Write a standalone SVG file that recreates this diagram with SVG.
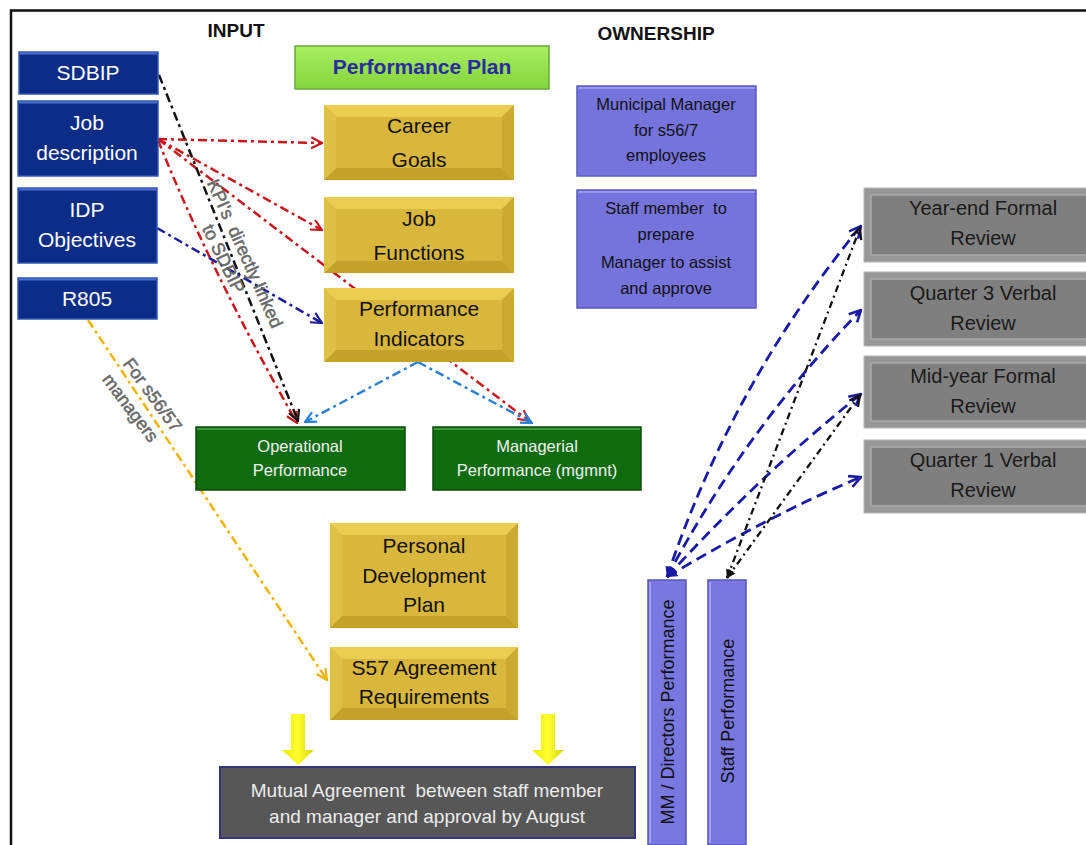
<svg xmlns="http://www.w3.org/2000/svg" width="1086" height="845" viewBox="0 0 1086 845">
<defs>
<style>
text{font-family:"Liberation Sans",Arial,sans-serif}
.t-in{fill:#fff;font-size:21px;text-anchor:middle}
.t-gold{fill:#111;font-size:21px;text-anchor:middle}
.t-green{fill:#f2f2f2;font-size:16.5px;text-anchor:middle}
.t-purp{fill:#111;font-size:16.5px;text-anchor:middle}
.t-gray{fill:#1a1a1a;font-size:20px;text-anchor:middle}
.t-head{fill:#111;font-size:19px;font-weight:bold;text-anchor:middle}
.t-note{fill:#686868;font-size:18px;text-anchor:middle;stroke:#686868;stroke-width:0.5}
.inbox{fill:#0c2d87;stroke:#3059b8;stroke-width:1.5}
.gt{fill:#ebcd52}.gb{fill:#c4a12b}.gl{fill:#dfc046}.gr{fill:#cba932}.gf{fill:#d8b73c}
.green{fill:#0e6b0e;stroke:#0a4d0a;stroke-width:1.5}
.purp{fill:#7474dc;stroke:#5a5ac0;stroke-width:1.5}
.bar{fill:#7878e0;stroke:#5656b6;stroke-width:1.5}
.gout{fill:#989898;stroke:#b4b4b4;stroke-width:1}
.gin{fill:#7f7f7f;stroke:#a9a9a9;stroke-width:1.5}
.hl{fill:none;stroke-width:2}
.c{fill:none;stroke-width:2.5}
.dd{stroke-dasharray:9 4 3 4}
.red{stroke:#c8161d}.blk{stroke:#111}.navy{stroke:#1c1c9c}.lblue{stroke:#2a80d4}.gold{stroke:#f0b400}
.rb{fill:none;stroke:#1a1aa8;stroke-width:2.8;stroke-dasharray:11 6}
.rk{fill:none;stroke:#111;stroke-width:2.3;stroke-dasharray:7 4 2 4}
</style>
<linearGradient id="gPlan" x1="0" y1="0" x2="0" y2="1"><stop offset="0" stop-color="#a8ee60"/><stop offset="1" stop-color="#84d43c"/></linearGradient>
<linearGradient id="gYel" x1="0" y1="0" x2="1" y2="0"><stop offset="0" stop-color="#e8e800"/><stop offset="0.5" stop-color="#ffff30"/><stop offset="1" stop-color="#d4d400"/></linearGradient>
<marker id="mRed" viewBox="0 0 12 12" refX="11" refY="6" markerWidth="13" markerHeight="13" markerUnits="userSpaceOnUse" orient="auto-start-reverse"><path d="M1,1 L11,6 L1,11" fill="none" stroke="#c8161d" stroke-width="2"/></marker>
<marker id="mBlk" viewBox="0 0 12 12" refX="11" refY="6" markerWidth="13" markerHeight="13" markerUnits="userSpaceOnUse" orient="auto-start-reverse"><path d="M1,1 L11,6 L1,11" fill="none" stroke="#111" stroke-width="2"/></marker>
<marker id="mNavy" viewBox="0 0 12 12" refX="11" refY="6" markerWidth="13" markerHeight="13" markerUnits="userSpaceOnUse" orient="auto-start-reverse"><path d="M1,1 L11,6 L1,11" fill="none" stroke="#1c1c9c" stroke-width="2"/></marker>
<marker id="mLblue" viewBox="0 0 12 12" refX="11" refY="6" markerWidth="13" markerHeight="13" markerUnits="userSpaceOnUse" orient="auto-start-reverse"><path d="M1,1 L11,6 L1,11" fill="none" stroke="#2a80d4" stroke-width="2"/></marker>
<marker id="mGold" viewBox="0 0 12 12" refX="11" refY="6" markerWidth="13" markerHeight="13" markerUnits="userSpaceOnUse" orient="auto-start-reverse"><path d="M1,1 L11,6 L1,11" fill="none" stroke="#f0b400" stroke-width="2"/></marker>
<marker id="mRB" viewBox="0 0 12 12" refX="11" refY="6" markerWidth="14" markerHeight="14" markerUnits="userSpaceOnUse" orient="auto-start-reverse"><path d="M1,1 L11,6 L1,11" fill="none" stroke="#1a1aa8" stroke-width="2.2"/></marker>
<marker id="mRBf" viewBox="0 0 12 12" refX="11" refY="6" markerWidth="12" markerHeight="12" markerUnits="userSpaceOnUse" orient="auto-start-reverse"><path d="M1,1 L11,6 L1,11 Z" fill="#1a1aa8"/></marker>
<marker id="mBkf" viewBox="0 0 12 12" refX="11" refY="6" markerWidth="10" markerHeight="10" markerUnits="userSpaceOnUse" orient="auto-start-reverse"><path d="M1,1 L11,6 L1,11 Z" fill="#111"/></marker>
</defs>
<rect x="0" y="0" width="1086" height="845" fill="#fff"/>
<g id="frame" stroke="#111" stroke-width="2.5" fill="none">
<path d="M11,845 L11,10.5 L1086,10.5"/>
</g>
<g id="headers">
<text class="t-head" x="236" y="37">INPUT</text>
<text class="t-head" x="656" y="40">OWNERSHIP</text>
</g>
<g id="connectors">
<path class="c dd red" d="M158,139 L322,143" marker-end="url(#mRed)"/>
<path class="c dd red" d="M158,139 L322,230" marker-end="url(#mRed)"/>
<path class="c dd red" d="M158,139 L529,421" marker-end="url(#mRed)"/>
<path class="c dd red" d="M158,140 Q210,270 297,423" marker-end="url(#mRed)"/>
<path class="c dd blk" d="M159,75 L298,421" marker-end="url(#mBlk)"/>
<path class="c dd navy" d="M157,228 L322,323" marker-end="url(#mNavy)"/>
<path class="c dd lblue" d="M418,362 L305,422" marker-end="url(#mLblue)"/>
<path class="c dd lblue" d="M418,362 L532,423" marker-end="url(#mLblue)"/>
<path class="c dd gold" d="M88,320 L327,680" marker-end="url(#mGold)"/>
<path class="rb" d="M667,577 Q732,383 861,226" marker-end="url(#mRB)" marker-start="url(#mRBf)"/>
<path class="rb" d="M667,577 Q745,430 861,310" marker-end="url(#mRB)" marker-start="url(#mRBf)"/>
<path class="rb" d="M667,577 Q760,475 861,394" marker-end="url(#mRB)" marker-start="url(#mRBf)"/>
<path class="rb" d="M667,577 Q770,515 861,477" marker-end="url(#mRB)" marker-start="url(#mRBf)"/>
<path class="rk" d="M727,578 L860,228" marker-end="url(#mBlk)" marker-start="url(#mBkf)"/>
<path class="rk" d="M727,578 L860,395" marker-end="url(#mBlk)" marker-start="url(#mBkf)"/>
</g>
<g id="labels">
<text class="t-note" transform="translate(239.5,256) rotate(66)">KPI's&#160; directly linked</text>
<text class="t-note" transform="translate(218,261.5) rotate(64)">to SDBIP</text>
<text class="t-note" transform="translate(147.6,398.5) rotate(54)">For s56/57</text>
<text class="t-note" transform="translate(125.6,411.5) rotate(53)">managers</text>
</g>
<g id="sdbip"><rect class="inbox" x="19" y="52" width="139" height="42"/><path class="hl" stroke="#4a72cc" d="M20,53.5 L157,53.5"/><text class="t-in" x="88" y="80">SDBIP</text></g>
<g id="jobdesc"><rect class="inbox" x="18" y="101" width="140" height="75"/><path class="hl" stroke="#4a72cc" d="M19,102.5 L157,102.5"/><text class="t-in" x="87" y="130">Job</text><text class="t-in" x="87" y="160">description</text></g>
<g id="idp"><rect class="inbox" x="18" y="188" width="139" height="75"/><path class="hl" stroke="#4a72cc" d="M19,189.5 L156,189.5"/><text class="t-in" x="87" y="217">IDP</text><text class="t-in" x="87" y="247">Objectives</text></g>
<g id="r805"><rect class="inbox" x="18" y="278" width="139" height="41"/><path class="hl" stroke="#4a72cc" d="M19,279.5 L156,279.5"/><text class="t-in" x="87" y="306">R805</text></g>
<g id="perfplan"><rect x="295" y="46" width="254" height="43" fill="url(#gPlan)" stroke="#6aa83a" stroke-width="1.5"/><text x="422" y="74" font-size="21" font-weight="bold" fill="#2b2ba0" text-anchor="middle">Performance Plan</text></g>
<g id="career">
<rect class="gf" x="324" y="105" width="190" height="75"/>
<polygon class="gt" points="324,105 514,105 502,117 336,117"/><polygon class="gb" points="324,180 514,180 502,168 336,168"/><polygon class="gl" points="324,105 336,117 336,168 324,180"/><polygon class="gr" points="514,105 502,117 502,168 514,180"/><rect class="gf" x="336" y="117" width="166" height="51"/>
<text class="t-gold" x="419" y="133">Career</text><text class="t-gold" x="419" y="167">Goals</text></g>
<g id="jobfunc">
<rect class="gf" x="324" y="197" width="190" height="76"/>
<polygon class="gt" points="324,197 514,197 502,209 336,209"/><polygon class="gb" points="324,273 514,273 502,261 336,261"/><polygon class="gl" points="324,197 336,209 336,261 324,273"/><polygon class="gr" points="514,197 502,209 502,261 514,273"/><rect class="gf" x="336" y="209" width="166" height="52"/>
<text class="t-gold" x="419" y="226">Job</text><text class="t-gold" x="419" y="260">Functions</text></g>
<g id="perfind">
<rect class="gf" x="324" y="288" width="190" height="74"/>
<polygon class="gt" points="324,288 514,288 502,300 336,300"/><polygon class="gb" points="324,362 514,362 502,350 336,350"/><polygon class="gl" points="324,288 336,300 336,350 324,362"/><polygon class="gr" points="514,288 502,300 502,350 514,362"/><rect class="gf" x="336" y="300" width="166" height="50"/>
<text class="t-gold" x="419" y="316">Performance</text><text class="t-gold" x="419" y="346">Indicators</text></g>
<g id="operational"><rect class="green" x="196" y="427" width="209" height="63"/><path class="hl" stroke="#3c9a3c" d="M197,429 L404,429"/><text class="t-green" x="300" y="452">Operational</text><text class="t-green" x="300" y="476">Performance</text></g>
<g id="managerial"><rect class="green" x="433" y="427" width="208" height="63"/><path class="hl" stroke="#3c9a3c" d="M434,429 L640,429"/><text class="t-green" x="537" y="452">Managerial</text><text class="t-green" x="537" y="476">Performance (mgmnt)</text></g>
<g id="pdp">
<rect class="gf" x="330" y="523" width="188" height="105"/>
<polygon class="gt" points="330,523 518,523 506,535 342,535"/><polygon class="gb" points="330,628 518,628 506,616 342,616"/><polygon class="gl" points="330,523 342,535 342,616 330,628"/><polygon class="gr" points="518,523 506,535 506,616 518,628"/><rect class="gf" x="342" y="535" width="164" height="81"/>
<text class="t-gold" x="424" y="553">Personal</text><text class="t-gold" x="424" y="583">Development</text><text class="t-gold" x="424" y="612">Plan</text></g>
<g id="s57">
<rect class="gf" x="330" y="647" width="188" height="73"/>
<polygon class="gt" points="330,647 518,647 506,659 342,659"/><polygon class="gb" points="330,720 518,720 506,708 342,708"/><polygon class="gl" points="330,647 342,659 342,708 330,720"/><polygon class="gr" points="518,647 506,659 506,708 518,720"/><rect class="gf" x="342" y="659" width="164" height="49"/>
<text class="t-gold" x="424" y="675">S57 Agreement</text><text class="t-gold" x="424" y="704">Requirements</text></g>
<g id="yellow-arrows" fill="url(#gYel)">
<polygon points="291,714 305,714 305,750 314,750 298,765 282,750 291,750"/>
<polygon points="541,714 555,714 555,750 564,750 548,765 532,750 541,750"/>
</g>
<g id="mutual"><rect x="220" y="767" width="415" height="71" fill="#575757" stroke="#34347c" stroke-width="2"/><text x="427" y="797" font-size="19" fill="#ececec" text-anchor="middle">Mutual Agreement&#160; between staff member</text><text x="427" y="823" font-size="19" fill="#ececec" text-anchor="middle">and manager and approval by August</text></g>
<g id="municipal"><rect class="purp" x="577" y="86" width="179" height="90"/><path class="hl" stroke="#9898f0" d="M578,88 L755,88"/><text class="t-purp" x="666" y="110">Municipal Manager</text><text class="t-purp" x="666" y="136">for s56/7</text><text class="t-purp" x="666" y="161">employees</text></g>
<g id="staffmember"><rect class="purp" x="577" y="190" width="179" height="118"/><path class="hl" stroke="#9898f0" d="M578,192 L755,192"/><text class="t-purp" x="666" y="214">Staff member&#160; to</text><text class="t-purp" x="666" y="240">prepare</text><text class="t-purp" x="666" y="268">Manager to assist</text><text class="t-purp" x="666" y="294">and approve</text></g>
<g id="mmdirectors"><rect class="bar" x="648" y="580" width="38" height="265"/><path class="hl" stroke="#a0a0f6" d="M650,582 L650,843"/><text transform="translate(674,712) rotate(-90)" font-size="18" fill="#111" text-anchor="middle">MM / Directors Performance</text></g>
<g id="staffperf"><rect class="bar" x="708" y="580" width="38" height="265"/><path class="hl" stroke="#a0a0f6" d="M710,582 L710,843"/><text transform="translate(734,711) rotate(-90)" font-size="18" fill="#111" text-anchor="middle">Staff Performance</text></g>
<g id="yearend"><rect class="gout" x="864" y="188" width="232" height="74"/><rect class="gin" x="871" y="195" width="225" height="60"/><text class="t-gray" x="983" y="215">Year-end Formal</text><text class="t-gray" x="983" y="245">Review</text></g>
<g id="q3"><rect class="gout" x="864" y="272" width="232" height="74"/><rect class="gin" x="871" y="279" width="225" height="60"/><text class="t-gray" x="983" y="300">Quarter 3 Verbal</text><text class="t-gray" x="983" y="330">Review</text></g>
<g id="midyear"><rect class="gout" x="864" y="356" width="232" height="72"/><rect class="gin" x="871" y="363" width="225" height="58"/><text class="t-gray" x="983" y="383">Mid-year Formal</text><text class="t-gray" x="983" y="413">Review</text></g>
<g id="q1"><rect class="gout" x="864" y="440" width="232" height="73"/><rect class="gin" x="871" y="447" width="225" height="59"/><text class="t-gray" x="983" y="467">Quarter 1 Verbal</text><text class="t-gray" x="983" y="497">Review</text></g>
</svg>
